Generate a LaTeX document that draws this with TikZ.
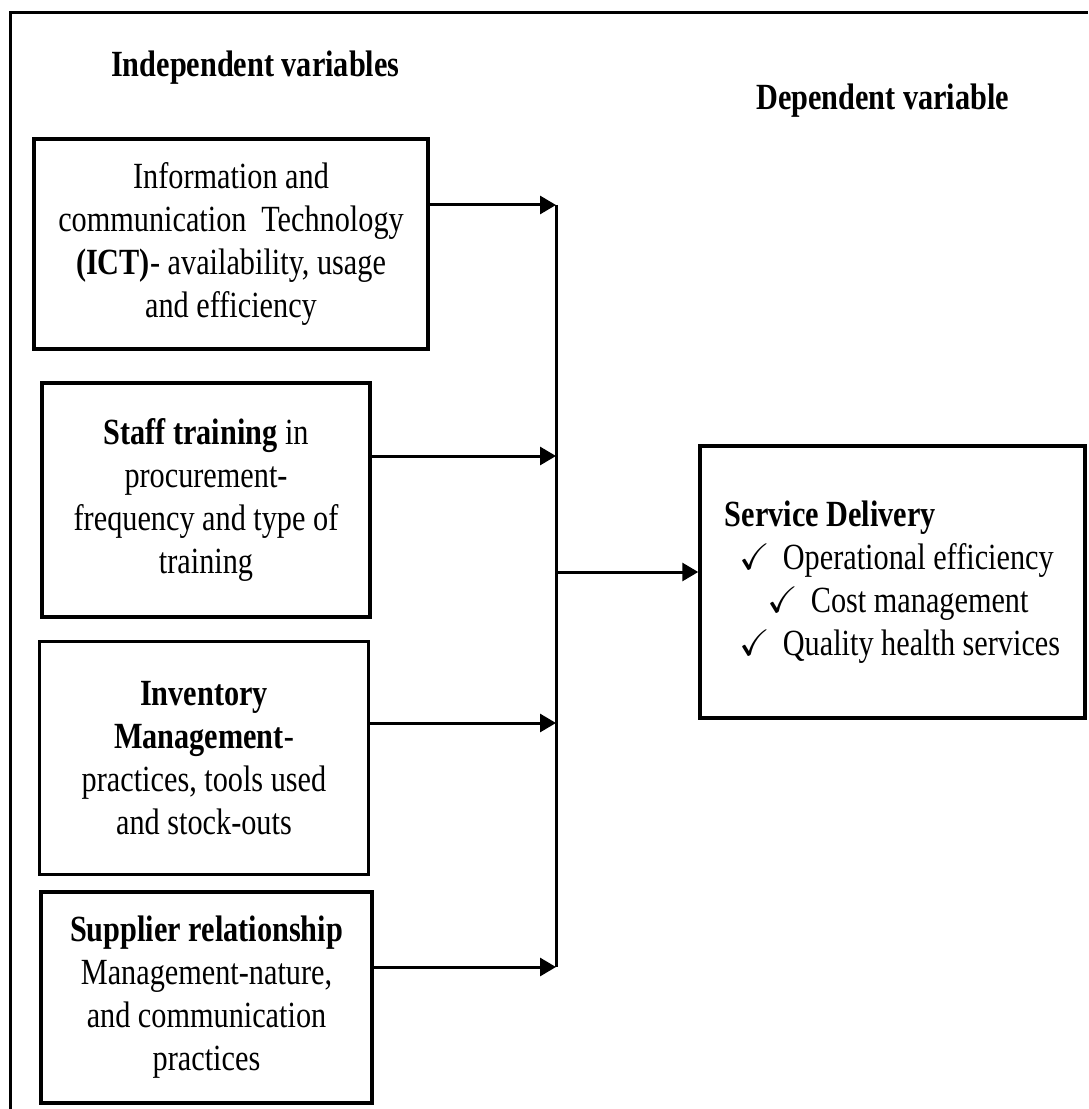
\documentclass[tikz,border=0pt]{standalone}
\usepackage{amssymb}
\usepackage{fontspec}
\setmainfont{Liberation Serif}[FakeStretch=0.82]
\usetikzlibrary{arrows.meta,positioning}

\begin{document}
\begin{tikzpicture}[block/.style={rectangle, draw, line width=0.7mm, align=center, inner sep=0pt},
  txt/.style={font=\fontsize{21}{24.5}\selectfont},
  link/.style={line width=0.6mm, -{Triangle[length=3.2mm, width=3.6mm]}},
  node distance=40mm]
  \useasboundingbox (0,0) rectangle (217.6mm,-221.8mm);
  \draw[line width=0.6mm] (2mm,-221.8mm) -- (2mm,-2.6mm) -- (217.6mm,-2.6mm);
  \node[txt, anchor=base west] (indep) at (21mm,-15.4mm) {\textbf{Independent variables}};
  \node[txt, anchor=base west] (dep) at (150mm,-22mm) {\textbf{Dependent variable}};

  \node[block, txt, minimum width=78.8mm, minimum height=42mm] (ict) at (46.2mm,-48.8mm)
    {Information and\\communication\hspace{0.4em}Technology\\\textbf{(ICT)}- availability, usage\\and efficiency};
  \node[block, txt, minimum width=65.6mm, minimum height=46.8mm] (train) at (41.2mm,-100mm)
    {\textbf{Staff training} in\\procurement-\\frequency and type of\\training};
  \node[block, txt, minimum width=65.8mm, minimum height=46.6mm] (inv) at (40.8mm,-151.6mm)
    {\textbf{Inventory}\\\textbf{Management}-\\practices, tools used\\and stock-outs};
  \node[block, txt, minimum width=66.2mm, minimum height=42.2mm] (supp) at (41.3mm,-199.5mm)
    {\textbf{Supplier relationship}\\Management-nature,\\and communication\\practices};
  \node[block, txt, minimum width=77mm, minimum height=54.4mm, align=left] (serv) at (178.5mm,-116.4mm)
    {\textbf{Service Delivery}\\
     \hspace*{3mm}\makebox[8.6mm][l]{\checkmark}Operational efficiency\\
     \hspace*{8.6mm}\makebox[8.6mm][l]{\checkmark}Cost management\\
     \hspace*{3mm}\makebox[8.6mm][l]{\checkmark}Quality health services};

  \coordinate (j1) at (111.2mm,-41mm);
  \coordinate (j2) at (111.2mm,-91.2mm);
  \coordinate (j3) at (111.2mm,-144.6mm);
  \coordinate (j4) at (111.2mm,-193.4mm);
  \coordinate (jout) at (111.2mm,-114.4mm);
  \draw[line width=0.6mm] (j1) -- (j4);
  \draw[link] (ict.east |- j1) -- (j1);
  \draw[link] (train.east |- j2) -- (j2);
  \draw[link] (inv.east |- j3) -- (j3);
  \draw[link] (supp.east |- j4) -- (j4);
  \draw[link] (jout) -- (jout -| serv.west);

\end{tikzpicture}
\end{document}
